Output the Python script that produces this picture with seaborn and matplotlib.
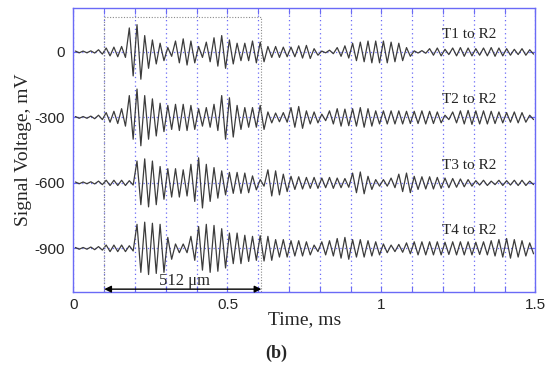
import numpy as np
import pandas as pd
import matplotlib
matplotlib.use("Agg")
import matplotlib.pyplot as plt
import seaborn as sns

# Peak amplitude (mV) of each 0.025 ms cycle, 0 to 1.5 ms
period = 0.025
amp_t1 = [4, 4, 5, 10, 18, 22, 25, 110, 125, 75, 55, 40, 20, 50, 60, 50, 25, 45, 65, 75,
          55, 40, 40, 50, 45, 25, 25, 22, 22, 28, 30, 15, 4, 8, 20, 28, 40, 45, 50, 50,
          50, 45, 40, 20, 5, 6, 15, 18, 12, 18, 20, 18, 15, 18, 20, 18, 15, 12, 15, 10]
amp_t2 = [4, 4, 6, 10, 22, 28, 40, 100, 130, 100, 85, 65, 55, 60, 60, 55, 40, 45, 60, 100,
          90, 55, 45, 45, 55, 25, 20, 22, 45, 50, 30, 25, 15, 30, 40, 38, 40, 45, 40, 30,
          30, 30, 30, 28, 28, 30, 28, 25, 10, 25, 30, 32, 30, 30, 28, 25, 22, 25, 22, 10]
amp_t3 = [4, 4, 5, 8, 12, 12, 12, 10, 100, 110, 100, 75, 65, 65, 60, 85, 115, 85, 70, 55,
          48, 48, 45, 32, 15, 60, 55, 40, 30, 28, 25, 25, 22, 25, 22, 20, 45, 50, 30, 15,
          15, 22, 40, 45, 30, 28, 28, 25, 22, 20, 18, 15, 10, 12, 8, 12, 10, 12, 12, 8]
amp_t4 = [4, 4, 6, 8, 15, 15, 15, 12, 110, 120, 115, 110, 50, 20, 20, 55, 100, 110, 105, 90,
          70, 70, 60, 55, 58, 55, 40, 40, 35, 35, 30, 15, 30, 35, 45, 50, 40, 40, 35, 30,
          20, 15, 18, 25, 30, 30, 30, 30, 28, 30, 30, 30, 28, 30, 35, 40, 45, 40, 35, 25]

names = ["T1 to R2", "T2 to R2", "T3 to R2", "T4 to R2"]
offsets = [0, -300, -600, -900]
amps = [amp_t1, amp_t2, amp_t3, amp_t4]

x_ticks = [0, 0.1, 0.2, 0.3, 0.4, 0.5, 0.6, 0.7, 0.8, 0.9, 1.0, 1.1, 1.2, 1.3, 1.4, 1.5]
x_labels = ["0", "", "", "", "", "0.5", "", "", "", "", "1", "", "", "", "", "1.5"]

# window marked on the plot
win_start, win_end, win_top = 0.1, 0.61, 162
win_text = "512 μm"

blue = "#6A6AF6"
wave = "#3c3c3c"

sns.set_style("ticks")
plt.rcParams["font.family"] = ["Liberation Sans", "DejaVu Sans"]

fig = plt.figure(figsize=(5.5, 3.67), dpi=100)
ax = fig.add_axes([0.1336, 0.2044, 0.84, 0.773])

cyc = np.arange(len(amp_t1)) * period
t = np.column_stack([cyc + period / 4, cyc + 3 * period / 4]).ravel()

for name, off, a in zip(names, offsets, amps):
    a = np.array(a, dtype=float)
    y = np.column_stack([a, -a]).ravel() + off
    df = pd.DataFrame({"t": t, "v": y})
    sns.lineplot(data=df, x="t", y="v", ax=ax, color=wave, lw=0.9,
                 estimator=None, sort=False, solid_joinstyle="round")
    ax.text(1.286, off + 80, name, ha="center", va="center",
            family="Liberation Serif", fontsize=11)

# dotted window and arrow
ax.plot([win_start, win_start, win_end, win_end], [-1100, win_top, win_top, -1100],
        ls=(0, (1, 1.5)), color="#8a8a8a", lw=0.8)
ax.annotate("", xy=(win_start, -1087), xytext=(win_end, -1087),
            arrowprops=dict(arrowstyle="<|-|>", color="k", lw=1.0,
                            shrinkA=0, shrinkB=0, mutation_scale=10))
ax.text(0.362, -1048, win_text, ha="center", va="center",
        family="Liberation Serif", fontsize=12)

ax.set_xlim(0, 1.5)
ax.set_ylim(-1100, 200)
ax.set_xticks(x_ticks)
ax.set_xticklabels(x_labels)
ax.set_yticks(offsets)
ax.set_yticklabels([str(o) for o in offsets])
ax.tick_params(direction="in", length=4, color=blue, labelsize=11,
               top=True, right=True, pad=4)
ax.tick_params(axis="y", pad=6)
for s in ax.spines.values():
    s.set_color(blue)
    s.set_linewidth(1.0)
ax.grid(True, color=blue, ls=(0, (1, 2.5)), lw=0.9)

ax.set_xlabel("Time, ms", family="Liberation Serif", fontsize=14, labelpad=0)
ax.set_ylabel("Signal Voltage, mV", family="Liberation Serif", fontsize=14, labelpad=2)
fig.text(0.503, 0.037, "(b)", ha="center", va="center",
         family="Liberation Serif", fontsize=13, fontweight="bold")

fig.savefig("out.png", dpi=100)
